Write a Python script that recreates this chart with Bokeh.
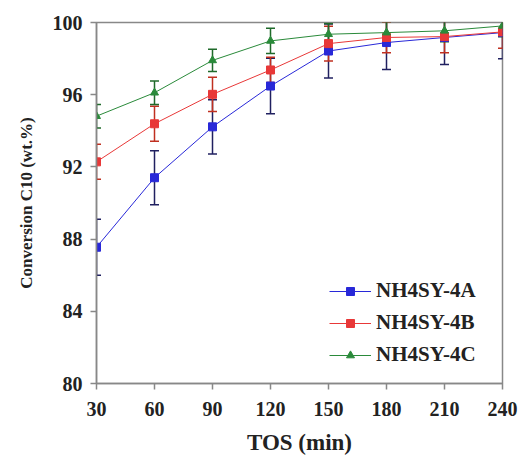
from bokeh.plotting import figure
from bokeh.models import ColumnDataSource, Whisker, TeeHead, Legend, LegendItem, FixedTicker
from bokeh.embed import file_html
from bokeh.resources import INLINE

tos = [30, 60, 90, 120, 150, 180, 210, 240]
a_vals = [87.55, 91.4, 94.22, 96.48, 98.42, 98.89, 99.17, 99.44]
a_err = [1.55, 1.5, 1.5, 1.54, 1.5, 1.5, 1.5, 1.45]
b_vals = [92.28, 94.39, 96.02, 97.37, 98.83, 99.17, 99.22, 99.48]
b_err = [0.97, 0.97, 0.95, 0.7, 0.96, 0.85, 0.9, 0.9]
c_vals = [94.81, 96.11, 97.9, 98.98, 99.35, 99.44, 99.54, 99.81]
c_err = [0.65, 0.65, 0.62, 0.7, 0.6, 0.6, 0.6, 0.6]
y_ticks = [80, 84, 88, 92, 96, 100]
x_ticks = [30, 60, 90, 120, 150, 180, 210, 240]

FONT = "Liberation Serif"

p = figure(width=522, height=462, output_backend="svg", toolbar_location=None,
           x_range=(30, 240), y_range=(80, 100),
           min_border_left=96, min_border_right=20, min_border_top=22, min_border_bottom=79)
p.grid.visible = False
p.outline_line_color = "#888888"
p.outline_line_width = 1.5

series = [
    ("NH4SY-4A", a_vals, a_err, "#2828d8", "#202060", "square"),
    ("NH4SY-4B", b_vals, b_err, "#e83838", "#c03020", "square"),
    ("NH4SY-4C", c_vals, c_err, "#2a8a3a", "#1f6a2a", "triangle"),
]
items = []
for name, vals, errs, col, ecol, mk in series:
    src = ColumnDataSource(dict(x=tos, y=vals,
                                lo=[v - e for v, e in zip(vals, errs)],
                                hi=[v + e for v, e in zip(vals, errs)]))
    w = Whisker(source=src, base="x", upper="hi", lower="lo",
                line_color=ecol, line_width=1.5,
                upper_head=TeeHead(size=9, line_color=ecol, line_width=1.5),
                lower_head=TeeHead(size=9, line_color=ecol, line_width=1.5))
    p.add_layout(w)
    r1 = p.line("x", "y", source=src, line_color=col, line_width=1)
    r2 = p.scatter("x", "y", source=src, marker=mk, size=8, fill_color=col, line_color=col)
    items.append(LegendItem(label=name, renderers=[r1, r2]))

leg = Legend(items=items, location=(233, 16), border_line_color=None,
             background_fill_alpha=0, label_text_font=FONT, label_text_font_style="bold",
             label_text_font_size="21px", label_text_color="#222222",
             glyph_width=42, glyph_height=20, label_height=22, spacing=7, label_standoff=5)
p.add_layout(leg, "center")

for ax in (p.xaxis[0], p.yaxis[0]):
    ax.axis_line_color = "#888888"
    ax.axis_line_width = 1.5
    ax.major_tick_line_color = "#888888"
    ax.major_tick_line_width = 1.5
    ax.major_tick_out = 6
    ax.major_tick_in = 0
    ax.minor_tick_line_color = None
    ax.major_label_text_font = FONT
    ax.major_label_text_font_style = "bold"
    ax.major_label_text_font_size = "20px"
    ax.major_label_text_color = "#222222"
    ax.axis_label_text_font = FONT
    ax.axis_label_text_font_style = "bold"
    ax.axis_label_text_color = "#222222"

p.xaxis[0].ticker = FixedTicker(ticks=x_ticks)
p.yaxis[0].ticker = FixedTicker(ticks=y_ticks)
p.xaxis[0].axis_label = "TOS (min)"
p.yaxis[0].axis_label = "Conversion C10 (wt.%)"
p.xaxis[0].axis_label_text_font_size = "23px"
p.yaxis[0].axis_label_text_font_size = "17px"
p.xaxis[0].major_label_standoff = 12
p.xaxis[0].axis_label_standoff = 11
p.yaxis[0].major_label_standoff = 8
p.yaxis[0].axis_label_standoff = 14

open("out.html", "w").write(file_html(p, INLINE))
